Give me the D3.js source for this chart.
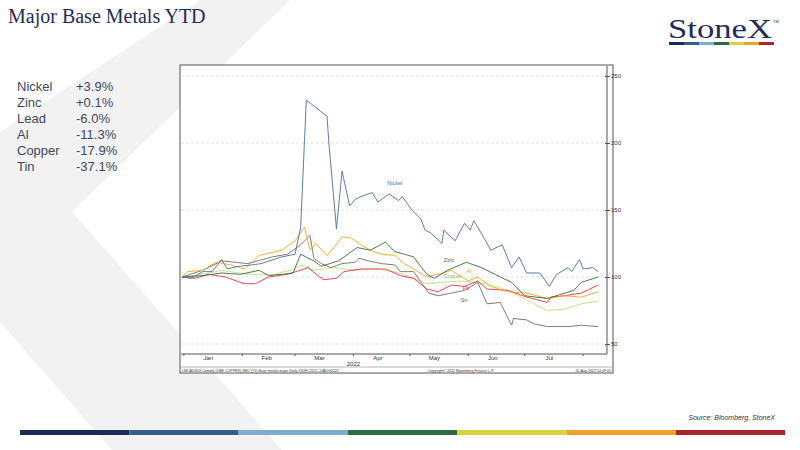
<!DOCTYPE html>
<html>
<head>
<meta charset="utf-8">
<script src="https://cdn.jsdelivr.net/npm/d3@7"></script>
<style>
  body { margin: 0; background: #fff; }
  svg { display: block; }
</style>
</head>
<body>
<div id="chart"></div>
<script>
// Each series: [day of 2022 (0 = Jan 1), indexed value]
const nickel = [[-1,100],[4,99],[10,104],[15,104],[20,113],[23,106],[29,108],[36,109],[41,110],[52,115],[59,117],[62,137],[65,232],[76,220],[77,200],[81,136],[84,179],[88,153],[91,158],[94,160],[100,163],[103,156],[109,162],[114,157],[116,160],[121,150],[126,143],[128,135],[131,133],[137,125],[138,135],[144,127],[149,140],[152,135],[154,142],[159,130],[163,120],[169,124],[174,107],[178,115],[182,103],[189,103],[194,93],[198,102],[204,107],[206,104],[210,113],[212,106],[217,107],[220,104]];
const zinc = [[-1,100],[10,101],[20,103],[30,102],[40,105],[45,101],[52,102],[58,103],[62,117],[69,112],[73,108],[82,112],[85,115],[92,122],[99,120],[107,126],[112,119],[122,115],[129,102],[133,99],[140,105],[150,111],[158,107],[168,100],[174,96],[181,86],[193,84],[207,90],[211,96],[220,100]];
const al = [[-1,100],[2,104],[10,105],[17,111],[25,109],[32,106],[40,116],[52,120],[59,127],[64,137],[67,120],[70,125],[76,116],[82,126],[84,130],[89,129],[94,124],[99,120],[105,117],[112,116],[117,110],[122,106],[129,100],[135,102],[142,105],[151,97],[156,100],[163,93],[172,89],[182,88],[193,84],[202,86],[211,85],[220,89]];
const tin = [[-1,100],[10,105],[20,112],[34,110],[47,115],[55,117],[62,124],[67,131],[69,114],[73,110],[78,107],[84,110],[91,111],[93,114],[98,112],[105,110],[112,109],[115,104],[122,104],[126,96],[130,88],[135,86],[142,88],[149,90],[156,96],[161,80],[168,81],[174,64],[175,69],[182,68],[186,65],[193,63],[204,63],[211,64],[220,63]];
const copper = [[-1,100],[10,102],[20,105],[34,102],[48,102],[59,106],[63,109],[69,105],[80,107],[91,105],[101,106],[112,104],[122,99],[129,95],[137,96],[147,97],[154,96],[161,95],[172,90],[182,83],[193,75],[202,76],[211,80],[220,82]];
const lead = [[-1,100],[6,99],[13,102],[22,100],[32,95],[38,95],[45,100],[55,102],[66,107],[74,98],[81,99],[85,104],[94,106],[107,106],[115,101],[122,99],[129,91],[135,89],[142,94],[149,93],[156,97],[161,91],[172,90],[182,85],[193,81],[195,85],[202,86],[211,88],[220,94]];

const seriesNames = ["Nickel", "Zinc", "Al", "Sn", "Copper", "Pb"];
const seriesData = [nickel, zinc, al, tin, copper, lead];
const seriesColors = ["#4a6fa5", "#3d6b3a", "#f5a623", "#7a6a60", "#b9e27a", "#f0304a"];
const labelColors = ["#4a6fa5", "#3d6b3a", "#f5a623", "#555555", "#8fbf50", "#f0304a"];
// inline label positions: [day, value]
const labelPos = [[108,169],[138,111],[150,103],[147,81],[138,99],[148,90]];

const ytdNames = ["Nickel", "Zinc", "Lead", "Al", "Copper", "Tin"];
const ytdValues = ["+3.9%", "+0.1%", "-6.0%", "-11.3%", "-17.9%", "-37.1%"];
const yTicks = [50, 100, 150, 200, 250];
const months = ["Jan", "Feb", "Mar", "Apr", "May", "Jun", "Jul"];
const stripeColors = ["#1c2a5a", "#365e8d", "#7eabd0", "#2f6b45", "#d8d23e", "#eda12a", "#a8262c"];

const width = 800, height = 450;
const svg = d3.select("#chart").append("svg").attr("width", width).attr("height", height);

// background chevron
svg.append("path")
  .attr("d", "M200,0 L290,0 L72,212 L282,450 L112,450 L0,322 L0,132 Z")
  .attr("fill", "#f2f2f2");

svg.append("text").attr("x", 8).attr("y", 23)
  .style("font-family", "Liberation Serif, serif").style("font-size", "20px")
  .attr("fill", "#1f2d5a").text("Major Base Metals YTD");

// logo
svg.append("text").attr("x", 668).attr("y", 38)
  .style("font-family", "Liberation Serif, serif").style("font-size", "27px")
  .attr("textLength", 104).attr("lengthAdjust", "spacingAndGlyphs")
  .attr("fill", "#1f2d5a").text("StoneX");
svg.append("text").attr("x", 773).attr("y", 23).style("font-family", "sans-serif")
  .style("font-size", "4px").attr("fill", "#1f2d5a").text("TM");
stripeColors.forEach((c, i) => {
  svg.append("rect").attr("x", 669 + i * 15).attr("y", 42).attr("width", 15).attr("height", 3).attr("fill", c);
  svg.append("rect").attr("x", 20 + i * 109.3).attr("y", 430).attr("width", 109.3).attr("height", 5).attr("fill", c);
});

// YTD list
ytdNames.forEach((n, i) => {
  const y = 91 + i * 16;
  svg.append("text").attr("x", 17).attr("y", y).text(n)
    .style("font-family", "Liberation Sans, Arial").style("font-size", "13px").attr("fill", "#3b4a5e");
  svg.append("text").attr("x", 76).attr("y", y).text(ytdValues[i])
    .style("font-family", "Liberation Sans, Arial").style("font-size", "13px").attr("fill", "#3b4a5e");
});

svg.append("text").attr("x", 775).attr("y", 420).attr("text-anchor", "end")
  .style("font-family", "Liberation Sans, Arial").style("font-size", "7px").style("font-style", "italic")
  .attr("fill", "#333").text("Source: Bloomberg, StoneX");

// chart frame
const box = {left: 180, top: 65, right: 613, bottom: 373};
const plot = {left: 181, top: 66, right: 607, bottom: 354};
svg.append("rect").attr("x", box.left).attr("y", box.top)
  .attr("width", box.right - box.left).attr("height", box.bottom - box.top)
  .attr("fill", "#fff").attr("stroke", "#555").attr("stroke-width", 1);

const start = new Date(2022, 0, 1);
const toDate = d => d3.timeDay.offset(start, d);
const x = d3.scaleTime().domain([toDate(-1), toDate(222.5)]).range([182, 602]);
const y = d3.scaleLinear().domain([50, 250]).range([344, 76]);

// gridlines
svg.append("g").selectAll("line").data(yTicks).join("line")
  .attr("x1", plot.left).attr("x2", plot.right)
  .attr("y1", d => y(d)).attr("y2", d => y(d))
  .attr("stroke", "#ccc").attr("stroke-dasharray", "3,2").attr("stroke-width", 0.6);

// right axis
const yAxis = svg.append("g").attr("transform", `translate(${plot.right},0)`)
  .call(d3.axisRight(y).tickValues(yTicks).tickSize(3).tickPadding(1));
yAxis.select(".domain").remove();
yAxis.selectAll("text").style("font-size", "6px").style("font-family", "Liberation Sans, Arial").attr("fill", "#333");
yAxis.selectAll("line").attr("stroke", "#555").attr("x1", -2);
svg.append("line").attr("x1", plot.right).attr("x2", plot.right).attr("y1", plot.top).attr("y2", plot.bottom).attr("stroke", "#555");
svg.append("line").attr("x1", plot.left).attr("x2", plot.right).attr("y1", plot.bottom).attr("y2", plot.bottom).attr("stroke", "#555");
svg.append("line").attr("x1", box.left).attr("x2", box.right).attr("y1", 367).attr("y2", 367).attr("stroke", "#888").attr("stroke-width", 0.6);

// month axis
const monthStarts = d3.range(0, 8).map(m => new Date(2022, m, 1));
svg.append("g").selectAll("line").data(monthStarts).join("line")
  .attr("x1", d => x(d)).attr("x2", d => x(d)).attr("y1", plot.bottom).attr("y2", plot.bottom + 2)
  .attr("stroke", "#555");
svg.append("g").selectAll("text").data(months).join("text")
  .attr("x", (d, i) => x(new Date(2022, i, 14))).attr("y", 360).attr("text-anchor", "middle")
  .style("font-size", "6px").style("font-family", "Liberation Sans, Arial").attr("fill", "#333").text(d => d);
svg.append("text").attr("x", x(new Date(2022, 3, 1))).attr("y", 365.5).attr("text-anchor", "middle")
  .style("font-size", "6px").style("font-family", "Liberation Sans, Arial").attr("fill", "#333").text("2022");

const foot = (tx, xx, anchor) => svg.append("text").attr("x", xx).attr("y", 372).attr("text-anchor", anchor)
  .style("font-size", "3.6px").style("font-family", "Liberation Sans, Arial").attr("fill", "#333").text(tx);
foot("LMCADS03 Comdty (LME COPPER)    3MO (¥1) Base metals major   Daily 31DEC2021-10AUG2022", 182, "start");
foot("Copyright© 2022 Bloomberg Finance L.P.", 428, "start");
foot("10-Aug-2022 14:49:01", 611, "end");

// lines
const line = d3.line().x(d => x(toDate(d[0]))).y(d => y(d[1]));
const order = [4, 5, 3, 2, 1, 0];
order.forEach(i => {
  svg.append("path").datum(seriesData[i]).attr("d", line)
    .attr("fill", "none").attr("stroke", seriesColors[i]).attr("stroke-width", 0.9);
});
seriesNames.forEach((n, i) => {
  const p = labelPos[i];
  svg.append("text").attr("x", x(toDate(p[0]))).attr("y", y(p[1]))
    .style("font-size", "5.5px").style("font-family", "Liberation Sans, Arial")
    .attr("fill", labelColors[i]).text(n);
});
</script>
</body>
</html>
